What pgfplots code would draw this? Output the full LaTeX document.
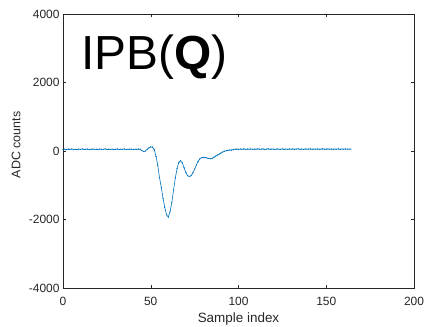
\documentclass[border=0pt]{standalone}
\usepackage{pgfplots}
\pgfplotsset{compat=1.18}
\usepackage{fontspec}
\setmainfont{Liberation Sans}
\definecolor{mblue}{rgb}{0,0.447,0.741}
\definecolor{axgray}{rgb}{0.15,0.15,0.15}
\begin{document}
\begin{tikzpicture}
\begin{axis}[
  name=ax,
  scale only axis,
  width=351bp, height=274bp,
  xmin=0, xmax=200, ymin=-4000, ymax=4000,
  xtick={0,50,100,150,200},
  ytick={-4000,-2000,0,2000,4000},
  tick align=inside,
  major tick length=3bp,
  axis line style={axgray, line width=0.5pt},
  tick style={axgray, line width=0.5pt},
  every tick label/.append style={font=\fontsize{12}{13}\selectfont, text=axgray},
  xticklabel style={anchor=base, yshift=-17bp},
  /pgf/number format/assume math mode=true,
  /pgf/number format/1000 sep={},
  xlabel={Sample index},
  ylabel={ADC counts},
  xlabel style={font=\fontsize{13.5}{14}\selectfont, text=axgray, at={(axis description cs:0.5,0)}, anchor=base, yshift=-34.7bp},
  ylabel style={font=\fontsize{12.5}{13}\selectfont, text=axgray, at={(axis description cs:-0.134,0.522)}, anchor=center},
  clip=false,
]
\addplot[color=mblue, line width=0.6pt, mark=*, mark size=0.25pt] coordinates {
(0,45)(1,52)(2,40)(3,55)(4,48)(5,60)(6,42)(7,50)(8,38)(9,55)
(10,47)(11,62)(12,44)(13,50)(14,56)(15,41)(16,49)(17,58)(18,45)(19,52)
(20,40)(21,57)(22,50)(23,46)(24,61)(25,43)(26,52)(27,48)(28,55)(29,39)
(30,50)(31,58)(32,44)(33,53)(34,47)(35,60)(36,42)(37,51)(38,49)(39,56)
(40,45)(41,52)(42,48)(43,55)(44,50)
(45,10)(46,-15)(47,0)(48,50)(49,95)(50,118)(51,112)(52,40)(53,-160)
(54,-420)(55,-780)(56,-1060)(57,-1380)(58,-1650)(59,-1860)(60,-1930)
(61,-1770)(62,-1500)(63,-1140)(64,-790)(65,-510)(66,-330)(67,-285)
(68,-350)(69,-490)(70,-630)(71,-720)(72,-745)(73,-720)(74,-640)
(75,-530)(76,-410)(77,-300)(78,-230)(79,-195)(80,-185)(81,-190)
(82,-205)(83,-220)(84,-225)(85,-210)(86,-180)(87,-150)(88,-120)
(89,-90)(90,-60)(91,-30)(92,-10)(93,10)(94,20)(95,30)(96,25)(97,40)
(98,50)(99,55)
(100,48)(101,58)(102,50)(103,62)(104,45)(105,55)(106,52)(107,60)(108,47)(109,56)
(110,50)(111,63)(112,48)(113,55)(114,59)(115,46)(116,54)(117,61)(118,49)(119,57)
(120,52)(121,45)(122,60)(123,53)(124,48)(125,62)(126,51)(127,56)(128,47)(129,58)
(130,53)(131,60)(132,49)(133,55)(134,64)(135,50)(136,57)(137,46)(138,59)(139,52)
(140,55)(141,61)(142,48)(143,57)(144,53)(145,60)(146,50)(147,56)(148,62)(149,49)
(150,55)(151,58)(152,51)(153,60)(154,47)(155,56)(156,53)(157,62)(158,50)(159,57)
(160,54)(161,59)(162,52)(163,56)(164,55)
};
\node[anchor=base west, inner sep=0pt, font=\fontsize{48}{50}\selectfont] at (axis cs:10.5,2370) {IPB(\textbf{Q})};
\end{axis}
\pgfresetboundingbox
\path ([shift={(-63bp,-39bp)}]ax.south west) rectangle ++(427bp,327bp);
\end{tikzpicture}
\end{document}
